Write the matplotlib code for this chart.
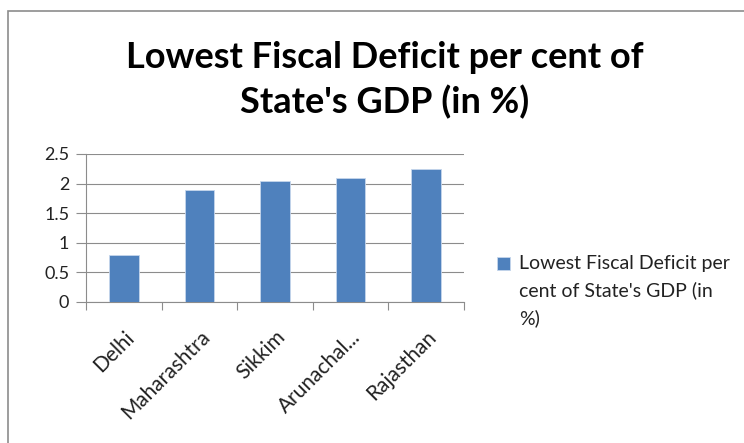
import matplotlib
matplotlib.use("Agg")
import matplotlib.pyplot as plt
from matplotlib.patches import Rectangle
from matplotlib.legend_handler import HandlerPatch
import numpy as np

plt.rcParams['font.family'] = ['Lato', 'DejaVu Sans']

states = ["Delhi", "Maharashtra", "Sikkim", "Arunachal...", "Rajasthan"]
deficit = [0.79, 1.9, 2.05, 2.1, 2.25]
series_name = "Lowest Fiscal Deficit per\ncent of State's GDP (in\n%)"
title = "Lowest Fiscal Deficit per cent of\nState's GDP (in %)"

W, H = 744, 443
fig = plt.figure(figsize=(W / 100, H / 100), dpi=100)

# chart area frame
fig.patches.append(Rectangle((8 / W, -0.1), 1.1, (H - 11) / H + 0.1,
                             transform=fig.transFigure, fill=False,
                             edgecolor="#8c8c8c", linewidth=1.2))

ax = fig.add_axes([86 / W, 1 - 302 / H, (464 - 86) / W, (302 - 154) / H])
x = np.arange(len(states))
bars = ax.bar(x, deficit, width=0.39, color="#4f81bd", edgecolor="#c6d6ec",
              linewidth=0.6, zorder=3)

ax.set_xlim(-0.5, len(states) - 0.5)
ax.set_ylim(0, 2.5)
ax.set_yticks(np.arange(0, 2.51, 0.5))
ax.set_yticklabels(["0", "0.5", "1", "1.5", "2", "2.5"])
ax.yaxis.grid(True, color="#8c8c8c", linewidth=0.8, zorder=0)

for s in ["top", "right"]:
    ax.spines[s].set_visible(False)
for s in ["left", "bottom"]:
    ax.spines[s].set_color("#8c8c8c")
    ax.spines[s].set_linewidth(0.8)

ax.set_xticks(x)
ax.set_xticklabels(states, rotation=45, ha="right", rotation_mode="anchor",
                   fontsize=15, color="#222222")
ax.tick_params(axis="x", length=0, pad=18)
ax.set_xticks(np.arange(-0.5, len(states)), minor=True)
ax.tick_params(axis="x", which="minor", length=6, color="#8c8c8c", width=0.8)
ax.tick_params(axis="y", length=7, color="#8c8c8c", width=0.8,
               labelsize=13, labelcolor="#222222", pad=5)

fig.text(385 / W, 1 - 80 / H, title, ha="center", va="center",
         fontsize=26, fontweight="bold", linespacing=1.38)


# legend key sits beside the first line of the wrapped label
def top_square(legend, orig_handle, xdescent, ydescent, width, height, fontsize):
    s = 0.68 * fontsize
    return Rectangle((-xdescent, -ydescent + height / 2 - s / 2 + 1.42 * fontsize), s, s)


leg = fig.legend(handles=[bars[0]], labels=[series_name],
                 handler_map={Rectangle: HandlerPatch(patch_func=top_square)},
                 loc="upper left", bbox_to_anchor=(483 / W, 1 - 241 / H),
                 frameon=False, fontsize=14, handlelength=0.7,
                 handleheight=0.7, handletextpad=0.45, borderpad=0.2)
for t in leg.get_texts():
    t.set_color("#222222")
    t.set_linespacing(1.65)

fig.savefig("out.png", dpi=100)
